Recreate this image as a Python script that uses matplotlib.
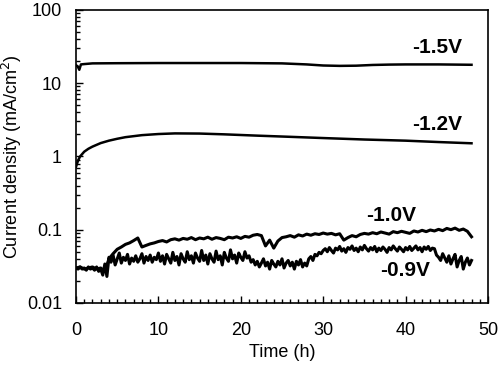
import matplotlib
matplotlib.use("Agg")
import matplotlib.pyplot as plt
from matplotlib.ticker import FixedLocator, LogLocator, NullFormatter, MultipleLocator
import numpy as np

plt.rcParams['font.family'] = ['Liberation Sans', 'DejaVu Sans']

# -1.5 V (smooth, read at a few times)
t15 = [0, 0.2, 0.4, 0.6, 1, 2, 5, 10, 15, 20, 25, 28, 30, 32, 34, 36, 38, 40, 44, 48]
j15 = [17.5, 17.0, 15.2, 18.0, 18.2, 18.6, 18.7, 18.8, 18.8, 18.8, 18.6, 18.0,
       17.4, 17.2, 17.3, 17.7, 17.9, 18.0, 18.0, 17.8]

# -1.2 V
t12 = [0, 0.25, 0.5, 1, 1.5, 2, 3, 4, 5, 6, 8, 10, 12, 15, 18, 22, 26, 30, 35, 40, 44, 48]
j12 = [0.72, 0.88, 1.0, 1.16, 1.27, 1.36, 1.52, 1.64, 1.74, 1.83, 1.95, 2.02,
       2.06, 2.05, 2.0, 1.92, 1.85, 1.78, 1.70, 1.64, 1.57, 1.51]

# -1.0 V, read every 0.5 h
j10 = [0.030, 0.031, 0.029, 0.030, 0.031, 0.029, 0.030,
       0.027, 0.040, 0.047, 0.054, 0.058, 0.063, 0.066, 0.071, 0.077, 0.058, 0.061, 0.064, 0.066, 0.069,
       0.071, 0.068, 0.073, 0.075, 0.072, 0.076, 0.074, 0.078, 0.073, 0.077,
       0.075, 0.079, 0.074, 0.078, 0.076, 0.073, 0.079, 0.077, 0.080, 0.076,
       0.081, 0.079, 0.084, 0.086, 0.083, 0.060, 0.072, 0.056, 0.070, 0.078,
       0.080, 0.083, 0.079, 0.085, 0.082, 0.087, 0.084, 0.088, 0.086, 0.090, 0.087, 0.089, 0.085, 0.088,
       0.072, 0.078, 0.083, 0.080, 0.086, 0.089,
       0.087, 0.091, 0.088, 0.093, 0.090, 0.087, 0.094, 0.091, 0.095, 0.092,
       0.089, 0.096, 0.093, 0.098, 0.094, 0.099, 0.096, 0.101, 0.097, 0.104,
       0.100, 0.105, 0.098, 0.102, 0.095, 0.080]
t10 = np.arange(len(j10)) * 0.5

# -0.9 V, read every 0.25 h (very noisy)
j09 = [0.030, 0.029, 0.031, 0.029, 0.030, 0.028, 0.031, 0.029, 0.030, 0.028, 0.031, 0.027, 0.029,
       0.024, 0.034, 0.023, 0.042,
       0.036, 0.045, 0.033, 0.040, 0.048, 0.035, 0.042, 0.038, 0.046, 0.034, 0.041, 0.037,
       0.044, 0.036, 0.040, 0.047, 0.035, 0.043, 0.038, 0.045, 0.036, 0.042, 0.039, 0.048,
       0.037, 0.044, 0.034, 0.046, 0.040, 0.035, 0.049, 0.038, 0.043, 0.033, 0.047, 0.040,
       0.036, 0.050, 0.039, 0.044, 0.035, 0.048, 0.041, 0.037, 0.052, 0.038, 0.045, 0.034,
       0.047, 0.040, 0.036, 0.051, 0.039, 0.044, 0.033, 0.049, 0.041, 0.037,
       0.053, 0.040, 0.045, 0.035, 0.048, 0.042, 0.038, 0.050, 0.041, 0.044,
       0.036, 0.039, 0.033, 0.037, 0.031, 0.035, 0.040, 0.032, 0.036, 0.029, 0.038, 0.034, 0.031, 0.037,
       0.033, 0.040, 0.030, 0.035, 0.038, 0.032, 0.036, 0.029, 0.037, 0.033, 0.039, 0.031, 0.035, 0.032,
       0.040, 0.043, 0.038, 0.046, 0.044, 0.049, 0.047, 0.052,
       0.055, 0.050, 0.057, 0.052, 0.048, 0.056, 0.053, 0.059, 0.051, 0.055, 0.049, 0.057, 0.054, 0.060,
       0.052, 0.056, 0.050, 0.058, 0.053, 0.061, 0.055, 0.051, 0.057, 0.053, 0.059, 0.050, 0.056, 0.052,
       0.058, 0.054, 0.049, 0.057, 0.053, 0.060, 0.055, 0.051, 0.058, 0.054, 0.050, 0.057, 0.053, 0.059,
       0.052, 0.056, 0.060, 0.053, 0.057, 0.050, 0.058, 0.054, 0.059, 0.052, 0.056, 0.055,
       0.045, 0.042, 0.038, 0.047, 0.041, 0.036, 0.044, 0.034, 0.040, 0.046, 0.031, 0.038,
       0.043, 0.029, 0.036, 0.041, 0.033, 0.038]
t09 = np.arange(len(j09)) * 0.25

labels = ["-1.5V", "-1.2V", "-1.0V", "-0.9V"]
label_pos = [(43.8, 31), (43.8, 2.7), (38.2, 0.155), (39.9, 0.028)]

fig = plt.figure(figsize=(5.0, 3.65), dpi=100)
ax = fig.add_axes([0.152, 0.170, 0.824, 0.803])

ax.plot(t15, j15, color="black", lw=1.8)
ax.plot(t12, j12, color="black", lw=1.8)
ax.plot(t10, j10, color="black", lw=2.2)
ax.plot(t09, j09, color="black", lw=2.2)

for lab, (x, y) in zip(labels, label_pos):
    ax.text(x, y, lab, fontsize=15, fontweight="bold", ha="center", va="center")

ax.set_yscale("log")
ax.set_ylim(0.01, 100)
ax.set_xlim(0, 50)
ax.yaxis.set_major_locator(FixedLocator([0.01, 0.1, 1, 10, 100]))
ax.set_yticklabels(["0.01", "0.1", "1", "10", "100"])
ax.yaxis.set_minor_locator(LogLocator(base=10, subs=np.arange(2, 10)))
ax.yaxis.set_minor_formatter(NullFormatter())
ax.xaxis.set_major_locator(MultipleLocator(10))
ax.xaxis.set_minor_locator(MultipleLocator(1))

ax.tick_params(which="both", direction="in", top=False, right=False, labelsize=13)
ax.tick_params(which="major", length=5, width=1, pad=10)
ax.tick_params(which="minor", length=3, width=1)
ax.tick_params(axis="x", which="major", pad=14)
for s in ax.spines.values():
    s.set_linewidth(1.2)

ax.set_xlabel("Time (h)", fontsize=13, labelpad=3)
ax.set_ylabel("Current density (mA/cm$^2$)", fontsize=13, labelpad=2)

fig.savefig("out.png", dpi=100)
